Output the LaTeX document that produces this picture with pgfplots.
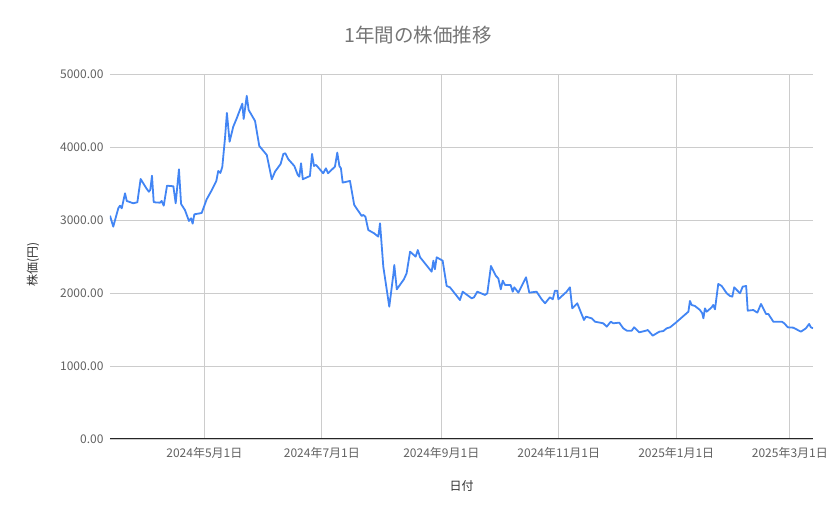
\documentclass[border=0pt]{standalone}
\usepackage{fontspec}
\setmainfont{Noto Sans CJK JP}
\usepackage{pgfplots}
\pgfplotsset{compat=1.18}
\definecolor{gblue}{HTML}{4285F4}
\definecolor{ticktxt}{HTML}{616161}
\definecolor{titletxt}{HTML}{757575}
\definecolor{labeltxt}{HTML}{333333}
\definecolor{gridc}{HTML}{CCCCCC}
\begin{document}
\begin{tikzpicture}
\path[use as bounding box] (-110pt,-80pt) rectangle (729pt,439pt);
\begin{axis}[
  at={(0,0)}, anchor=south west,
  scale only axis, width=703pt, height=365pt,
  xmin=0, xmax=365, ymin=0, ymax=5000,
  axis x line*=bottom, axis y line*=left,
  x axis line style={draw=black!85, line width=1pt},
  y axis line style={draw=none},
  major tick length=0pt,
  xtick={49,110,172,233,294,353},
  xticklabels={2024年5月1日,2024年7月1日,2024年9月1日,2024年11月1日,2025年1月1日,2025年3月1日},
  ytick={0,1000,2000,3000,4000,5000},
  xmajorgrids, ymajorgrids,
  grid style={draw=gridc, line width=0.9pt},
  /pgf/number format/assume math mode=true,
  /pgf/number format/fixed, /pgf/number format/fixed zerofill,
  /pgf/number format/precision=2, /pgf/number format/1000 sep={},
  tick label style={font=\fontsize{12}{14}\selectfont, text=ticktxt},
  xticklabel style={anchor=center, yshift=-14pt},
  yticklabel style={anchor=east, xshift=-3pt},
  title={1年間の株価推移},
  title style={at={(axis description cs:0.4381,1)}, anchor=center, yshift=33.3pt, font=\fontsize{19.5}{22}\selectfont, text=titletxt},
  xlabel={日付},
  xlabel style={at={(axis description cs:0.5,0)}, anchor=center, yshift=-47pt, font=\fontsize{12}{14}\selectfont, text=labeltxt},
  ylabel={株価(円)},
  ylabel style={at={(axis description cs:-0.1095,0.479)}, anchor=center, font=\fontsize{12}{14}\selectfont, text=labeltxt},
]
\addplot[gblue, line width=1.8pt, line join=round, no marks] table {
x y
0.0 3059
1.7 2909
4.3 3160
5.2 3196
6.1 3160
7.8 3366
8.7 3261
12.1 3229
14.2 3243
15.9 3562
19.1 3425
20.2 3388
20.9 3411
21.8 3607
22.7 3243
26.0 3237
26.8 3261
27.9 3196
29.6 3470
32.9 3462
34.1 3229
35.8 3694
36.9 3220
38.9 3137
41.0 2987
42.1 3023
42.9 2950
43.8 3078
47.6 3096
50.2 3284
52.8 3407
55.2 3535
56.2 3672
57.3 3644
58.3 3726
59.7 4119
60.7 4466
62.1 4073
64.0 4279
65.8 4393
67.9 4539
68.7 4594
69.4 4384
71.0 4700
72.0 4507
75.3 4357
77.5 4014
81.4 3891
84.0 3558
85.7 3663
88.6 3768
90.0 3905
91.0 3914
92.6 3832
95.7 3740
97.5 3617
98.3 3594
99.2 3777
100.1 3558
103.8 3603
104.9 3905
105.9 3740
107.0 3754
110.7 3640
112.1 3708
113.2 3640
116.8 3731
118.0 3923
119.1 3740
119.9 3708
120.8 3512
124.6 3535
126.8 3206
130.7 3055
131.5 3069
132.6 3046
134.1 2863
137.1 2818
139.3 2772
140.2 2955
141.9 2361
145.0 1813
147.1 2250
147.6 2384
148.9 2050
152.6 2188
154.0 2270
155.8 2566
158.7 2498
159.8 2589
161.0 2489
167.0 2292
167.9 2443
168.7 2325
169.6 2489
172.7 2443
174.8 2096
176.5 2078
181.7 1904
183.1 2018
187.8 1927
189.0 1941
190.7 2018
194.7 1973
195.9 1996
197.8 2370
200.4 2233
201.6 2201
202.9 2050
203.9 2169
205.1 2110
208.0 2110
209.1 2018
209.9 2078
212.0 2005
216.0 2215
217.7 2005
221.5 2018
224.1 1914
225.9 1859
228.4 1941
229.9 1914
231.0 2032
232.2 2032
232.8 1914
237.1 2018
238.8 2078
240.0 1790
242.6 1859
244.0 1767
246.1 1630
247.1 1676
250.1 1653
251.8 1607
256.1 1585
257.9 1539
260.0 1607
261.3 1585
264.4 1594
266.5 1516
268.3 1484
270.9 1484
272.1 1530
274.8 1461
278.3 1484
279.2 1493
281.8 1416
285.2 1470
287.3 1479
289.0 1516
290.8 1530
293.4 1585
300.3 1744
301.1 1891
302.0 1836
303.7 1822
306.3 1767
307.5 1722
308.1 1653
308.9 1790
309.8 1744
312.4 1804
313.2 1836
314.1 1776
315.8 2124
317.6 2096
320.2 1996
321.9 1959
323.1 1950
324.1 2078
325.4 2041
327.1 1996
328.5 2087
330.3 2096
331.1 1758
334.0 1767
336.1 1731
338.0 1850
340.6 1713
341.8 1713
344.4 1607
348.8 1607
350.1 1585
351.9 1530
354.8 1525
358.7 1470
361.3 1516
363.0 1576
363.9 1530
365.0 1516
};
\end{axis}
\end{tikzpicture}
\end{document}
